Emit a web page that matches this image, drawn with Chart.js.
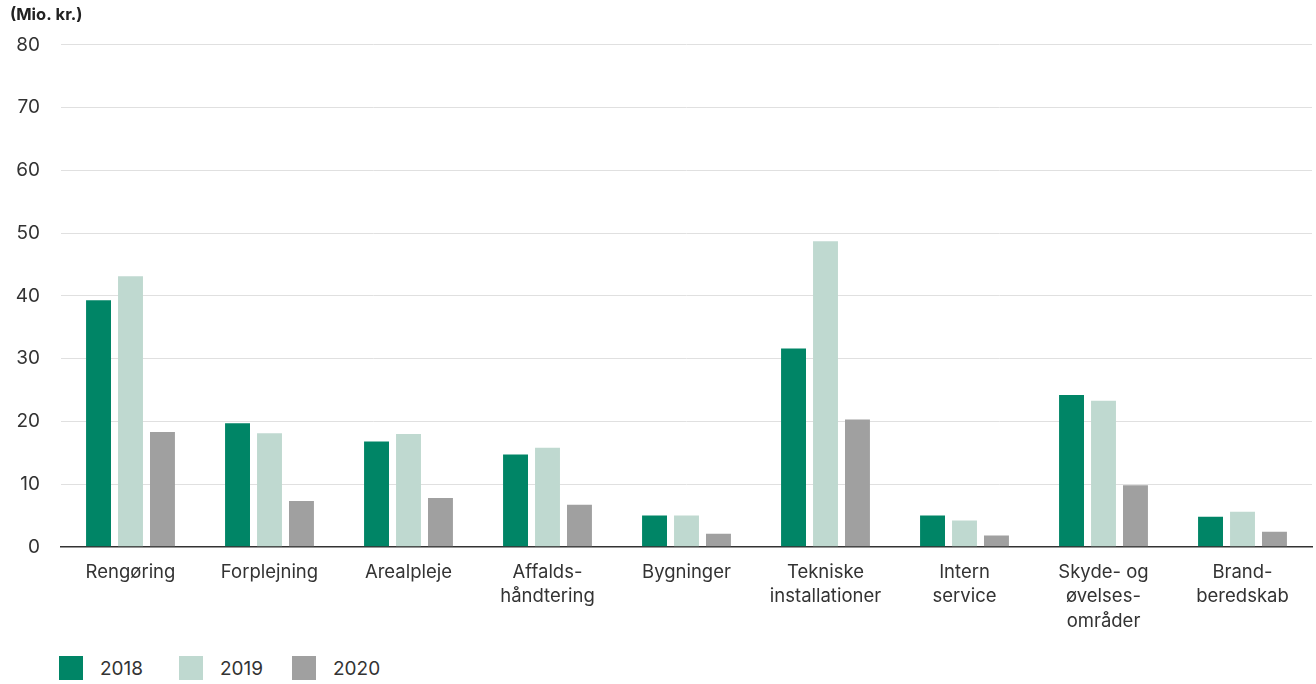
<!DOCTYPE html>
<html>
<head>
<meta charset="utf-8">
<script src="https://cdn.jsdelivr.net/npm/chart.js@4"></script>
<style>
  body { margin: 0; background: #fff; font-family: Inter, "Noto Sans", sans-serif; }
  #wrap { position: relative; width: 1316px; height: 684px; }
  #chartBox { position: absolute; left: 0; top: 0; width: 1316px; height: 643px; }
  .legend { position: absolute; top: 656px; display: flex; align-items: center; font-size: 19px; color: #333; }
  .legend span.box { display: inline-block; width: 24px; height: 24px; margin-right: 17px; }
</style>
</head>
<body>
<div id="wrap">
  <div id="chartBox"><canvas id="myChart"></canvas></div>
  <div id="legend"></div>
</div>
<script>
const categories = [
  "Rengøring", "Forplejning", "Arealpleje", ["Affalds-", "håndtering"], "Bygninger",
  ["Tekniske", "installationer"], ["Intern", "service"], ["Skyde- og", "øvelses-", "områder"], ["Brand-", "beredskab"]
];
const years = ["2018", "2019", "2020"];
const values2018 = [39.3, 19.7, 16.8, 14.7, 5.0, 31.6, 5.0, 24.2, 4.8];
const values2019 = [43.1, 18.1, 18.0, 15.8, 5.0, 48.7, 4.2, 23.3, 5.6];
const values2020 = [18.3, 7.3, 7.8, 6.7, 2.1, 20.3, 1.8, 9.8, 2.4];
const yTicks = [0, 10, 20, 30, 40, 50, 60, 70, 80];
const colors = ["#008566", "#bfd9d0", "#a0a0a0"];

const ctx = document.getElementById("myChart");

new Chart(ctx, {
  type: "bar",
  data: {
    labels: categories,
    datasets: [values2018, values2019, values2020].map((vals, i) => ({
      label: years[i],
      data: vals,
      backgroundColor: colors[i],
      categoryPercentage: 0.69,
      barPercentage: 0.78,
    })),
  },
  options: {
    responsive: true,
    maintainAspectRatio: false,
    animation: false,
    layout: { padding: { left: 10, right: 4, top: 0, bottom: 4 } },
    scales: {
      x: {
        grid: { display: false },
        border: { color: "#333", width: 1.5 },
        ticks: {
          color: "#333",
          padding: 6,
          maxRotation: 0,
          autoSkip: false,
          font: { family: "Inter", size: 18.5, lineHeight: 1.3 },
        },
      },
      y: {
        min: 0,
        max: 80,
        afterFit(axis) { axis.width = 51; }, // fixed gutter for the labels
        afterBuildTicks(axis) { axis.ticks = yTicks.map((v) => ({ value: v })); },
        border: { display: false },
        grid: { color: "#e0e0e0", lineWidth: 1, drawTicks: false },
        ticks: {
          color: "#333",
          padding: 21,
          font: { family: "Inter", size: 19 },
        },
      },
    },
    plugins: {
      legend: { display: false },
      tooltip: { enabled: false },
      title: {
        display: true,
        text: "(Mio. kr.)",
        align: "start",
        color: "#222",
        font: { family: "Inter", size: 16.5, weight: "bold" },
        padding: { top: 5, bottom: 20 },
      },
    },
  },
});

// html legend below the chart
const legend = document.getElementById("legend");
const legendX = [59, 179, 292];
years.forEach((y, i) => {
  const item = document.createElement("div");
  item.className = "legend";
  item.style.left = legendX[i] + "px";
  item.innerHTML = `<span class="box" style="background:${colors[i]}"></span>${y}`;
  legend.appendChild(item);
});
</script>
</body>
</html>
